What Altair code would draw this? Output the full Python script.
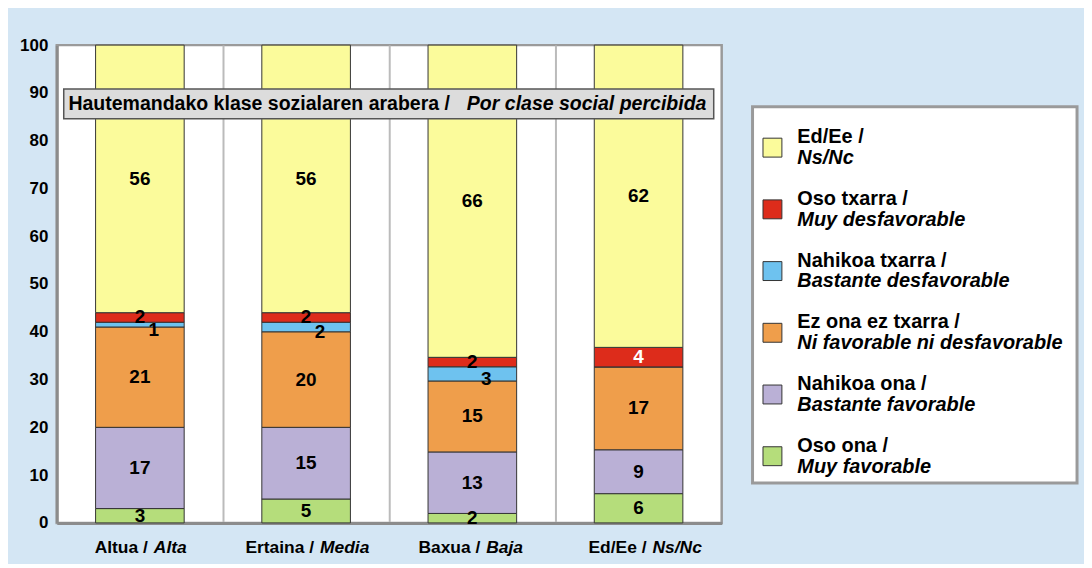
import altair as alt
import pandas as pd

FONT = "Liberation Sans"

# ---------------- data ----------------
categories_eu = ["Altua /", "Ertaina /", "Baxua /", "Ed/Ee /"]
categories_es = ["Alta", "Media", "Baja", "Ns/Nc"]
category_keys = ["alta", "media", "baja", "nsnc"]

series_keys = ["oso_ona", "nahikoa_ona", "ez_ona_ez_txarra", "nahikoa_txarra", "oso_txarra", "ed_ee"]
series_eu = ["Oso ona /", "Nahikoa ona /", "Ez ona ez txarra /", "Nahikoa txarra /", "Oso txarra /", "Ed/Ee /"]
series_es = ["Muy favorable", "Bastante favorable", "Ni favorable ni desfavorable",
             "Bastante desfavorable", "Muy desfavorable", "Ns/Nc"]

oso_ona = [3, 5, 2, 6]
nahikoa_ona = [17, 15, 13, 9]
ez_ona_ez_txarra = [21, 20, 15, 17]
nahikoa_txarra = [1, 2, 3, 0]
oso_txarra = [2, 2, 2, 4]
ed_ee = [56, 56, 66, 62]

title_eu = "Hautemandako klase sozialaren arabera /"
title_es = "Por clase social percibida"

bar_colors = ["#B5DD7B", "#BAB0D6", "#EF9E4B", "#6EC2EF", "#DD2C1B", "#FBFB9B"]
legend_colors = ["#B5DD7B", "#BAB0D6", "#EF9E4B", "#6EC2EF", "#DD2C1B", "#FFFF6E"]

# ---------------- tables ----------------
values = [oso_ona, nahikoa_ona, ez_ona_ez_txarra, nahikoa_txarra, oso_txarra, ed_ee]
rows = []
for i, cat in enumerate(category_keys):
    for j, s in enumerate(series_keys):
        rows.append({"cat": cat, "series": s, "order": j, "value": values[j][i]})
df = pd.DataFrame(rows)

cat_df = pd.DataFrame({"cat": category_keys, "eu": categories_eu, "es": categories_es})
title_df = pd.DataFrame({"eu": [title_eu], "es": [title_es]})
legend_df = pd.DataFrame({"series": series_keys, "eu": series_eu, "es": series_es})

W, H = 668, 480

x_enc = alt.X(
    "cat:N", sort=category_keys,
    scale=alt.Scale(paddingInner=0, paddingOuter=0),
    axis=alt.Axis(title=None, labels=False, ticks=False, grid=True, bandPosition=0,
                  gridColor="#BBBBBB", gridWidth=2, domainColor="#8C8C8C", domainWidth=3),
)

base = alt.Chart(df).transform_stack(
    stack="value", groupby=["cat"], as_=["v0", "v1"], offset="normalize",
    sort=[alt.SortField("order", "ascending")],
).transform_calculate(
    mid="(datum.v0 + datum.v1) / 2",
    tcol="datum.series == 'oso_txarra' && datum.value >= 4 ? 'white' : 'black'",
)

y_scale = alt.Scale(domain=[0, 1], nice=False)

bars = base.mark_bar(
    width=alt.RelativeBandSize(0.533), stroke="#333333", strokeWidth=1
).encode(
    x=x_enc,
    y=alt.Y("v0:Q", scale=y_scale,
            axis=alt.Axis(title=None, values=[i / 10 for i in range(11)],
                          labelExpr="round(datum.value * 100)",
                          labelFont=FONT, labelFontSize=17, labelFontWeight="bold",
                          labelColor="black", ticks=False, grid=False,
                          domainColor="#8C8C8C", domainWidth=3, labelPadding=9,
                          minExtent=40, maxExtent=40)),
    y2="v1:Q",
    color=alt.Color("series:N", scale=alt.Scale(domain=series_keys, range=bar_colors), legend=None),
)

labels_main = base.transform_filter(
    "datum.series != 'nahikoa_txarra' && datum.value > 0"
).mark_text(font=FONT, fontSize=19, fontWeight="bold").encode(
    x=alt.X("cat:N", sort=category_keys),
    y=alt.Y("mid:Q", scale=y_scale),
    text=alt.Text("value:Q"),
    color=alt.Color("tcol:N", scale=None),
)

labels_blue = base.transform_filter(
    "datum.series == 'nahikoa_txarra' && datum.value > 0"
).mark_text(font=FONT, fontSize=19, fontWeight="bold", dx=14, dy=5).encode(
    x=alt.X("cat:N", sort=category_keys),
    y=alt.Y("mid:Q", scale=y_scale),
    text=alt.Text("value:Q"),
    color=alt.value("black"),
)

title_box = alt.Chart(title_df).mark_rect(
    fill="#DCDCDC", stroke="#555555", strokeWidth=1.5
).encode(x=alt.value(7), x2=alt.value(660), y=alt.value(44), y2=alt.value(74))

title_t1 = alt.Chart(title_df).mark_text(
    font=FONT, fontSize=19.6, fontWeight="bold", align="right", baseline="middle"
).encode(x=alt.value(395), y=alt.value(59), text="eu:N", color=alt.value("black"))

title_t2 = alt.Chart(title_df).mark_text(
    font=FONT, fontSize=19.6, fontWeight="bold", fontStyle="italic", align="left", baseline="middle"
).encode(x=alt.value(412), y=alt.value(59), text="es:N", color=alt.value("black"))

xlab1 = alt.Chart(cat_df).mark_text(
    font=FONT, fontSize=17.5, fontWeight="bold", align="right", baseline="middle", dx=8
).encode(x=alt.X("cat:N", sort=category_keys), y=alt.value(H + 25), text="eu:N",
         color=alt.value("black"))

xlab2 = alt.Chart(cat_df).mark_text(
    font=FONT, fontSize=17.5, fontWeight="bold", fontStyle="italic", align="left",
    baseline="middle", dx=14
).encode(x=alt.X("cat:N", sort=category_keys), y=alt.value(H + 25), text="es:N",
         color=alt.value("black"))

main = alt.layer(
    bars, labels_main, labels_blue, title_box, title_t1, title_t2, xlab1, xlab2
).properties(
    width=W, height=H,
    view=alt.ViewBackground(fill="white", stroke="#9A9A9A", strokeWidth=2.5),
)

# ---------------- legend panel ----------------
legend_order = list(reversed(series_keys))
ly = alt.Y("series:N", sort=legend_order,
           scale=alt.Scale(type="point", range=[103, 413], padding=0), axis=None)

legend_box = alt.Chart(title_df).mark_rect(
    fill="white", stroke="#9A9A9A", strokeWidth=3
).encode(x=alt.value(0), x2=alt.value(326), y=alt.value(62), y2=alt.value(440))

legend_sq = alt.Chart(legend_df).mark_square(
    size=361, stroke="#333333", strokeWidth=1, opacity=1
).encode(
    x=alt.value(20), y=ly,
    color=alt.Color("series:N", scale=alt.Scale(domain=series_keys, range=legend_colors), legend=None),
)

legend_t1 = alt.Chart(legend_df).mark_text(
    font=FONT, fontSize=20, fontWeight="bold", align="left", baseline="middle", dy=-10.5
).encode(x=alt.value(45), y=ly, text="eu:N", color=alt.value("black"))

legend_t2 = alt.Chart(legend_df).mark_text(
    font=FONT, fontSize=20, fontWeight="bold", fontStyle="italic", align="left",
    baseline="middle", dy=10.5
).encode(x=alt.value(45), y=ly, text="es:N", color=alt.value("black"))

legend = alt.layer(legend_box, legend_sq, legend_t1, legend_t2).properties(
    width=326, height=H,
    view=alt.ViewBackground(fill="transparent", stroke="transparent"),
)

chart = alt.hconcat(main, legend, spacing=31, bounds="flush").properties(
    background="#D4E6F4",
    padding={"left": 7, "top": 25, "right": 5, "bottom": 5},
).configure_view(strokeWidth=0)

chart.save("out.html", embed_options={"renderer": "svg", "actions": False})
